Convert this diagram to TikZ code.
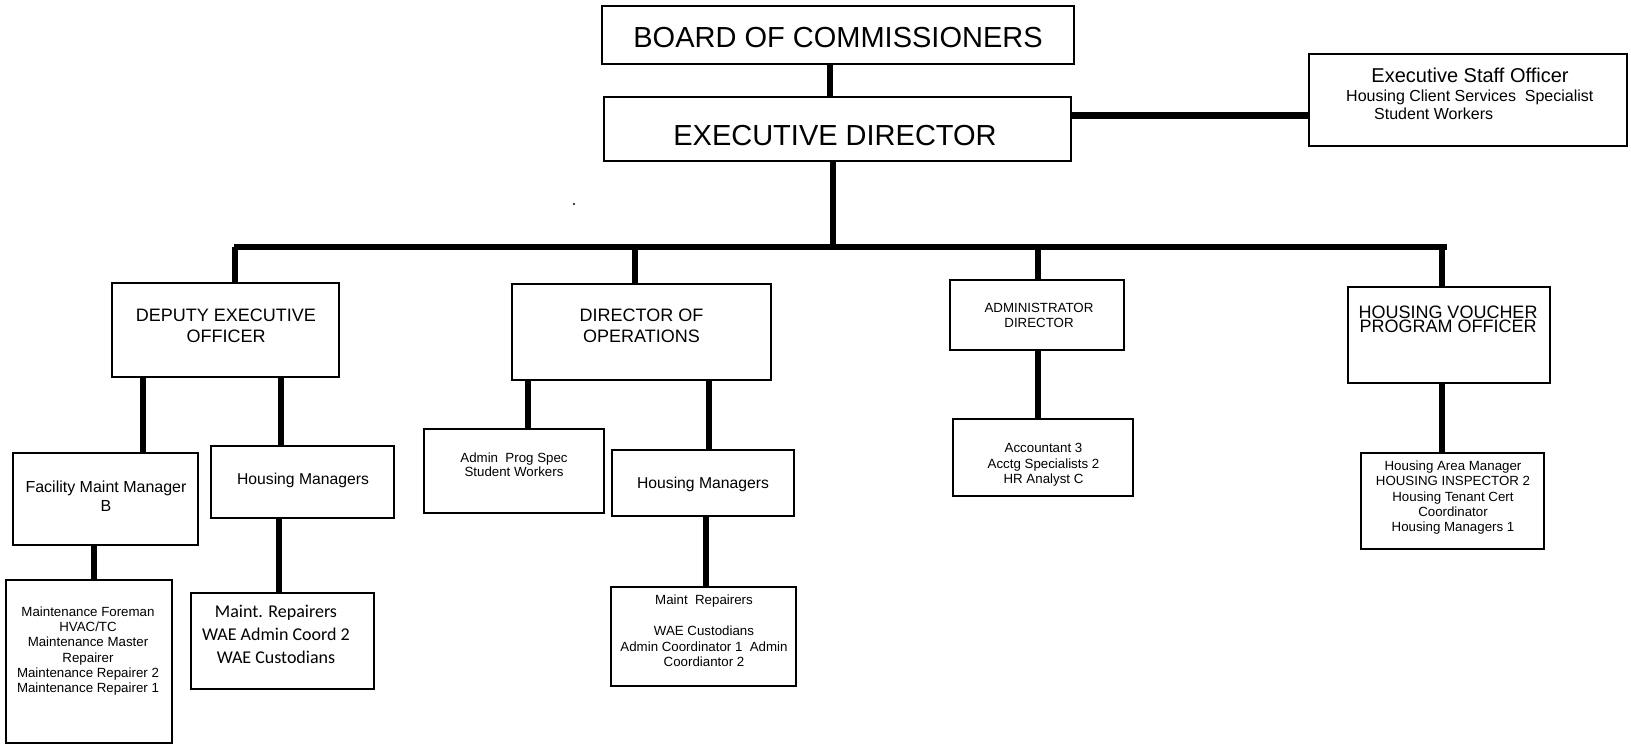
\documentclass[tikz,border=0pt]{standalone}
\usepackage{fontspec}
\setmainfont{Liberation Sans}
\newfontfamily\calibrifont{Carlito}
\begin{document}
\begin{tikzpicture}[x=1pt,y=-1pt,
  box/.style={draw, rectangle, line width=2.7pt, inner sep=0pt},
  conn/.style={line width=6.5pt},
  lbl/.style={inner sep=0pt, align=center},
  big/.style={font=\fontsize{29}{33}\selectfont},
  head/.style={font=\fontsize{18}{21}\selectfont},
  small/.style={font=\fontsize{13.3}{15.3}\selectfont},
]
\useasboundingbox (0,0) rectangle (1631,746);

% ---- boxes ----
\node[box, minimum width=472pt, minimum height=58pt] (board) at (838,35) {};
\node[box, minimum width=467pt, minimum height=64pt] (ed) at (837.5,129) {};
\node[box, minimum width=318pt, minimum height=92pt] (eso) at (1468,100) {};

\node[box, minimum width=227pt, minimum height=94pt] (deo) at (225.5,330) {};
\node[box, minimum width=259pt, minimum height=96pt] (doo) at (641.5,332) {};
\node[box, minimum width=174pt, minimum height=70pt] (ad) at (1037,315) {};
\node[box, minimum width=202pt, minimum height=96pt] (hvpo) at (1449,335) {};

\node[box, minimum width=185pt, minimum height=92pt] (fmm) at (105.5,499) {};
\node[box, minimum width=183pt, minimum height=72pt] (hm1) at (302.5,482) {};
\node[box, minimum width=180pt, minimum height=84pt] (aps) at (514,471) {};
\node[box, minimum width=182pt, minimum height=66pt] (hm2) at (703,483) {};
\node[box, minimum width=180pt, minimum height=77pt] (acc) at (1043,457.5) {};
\node[box, minimum width=183pt, minimum height=96pt] (hvs) at (1452.5,501) {};

\node[box, minimum width=166pt, minimum height=163pt] (mnt) at (89,661.5) {};
\node[box, minimum width=183pt, minimum height=96pt] (mr1) at (282.5,641) {};
\node[box, minimum width=185pt, minimum height=99pt] (mr2) at (703.5,636.5) {};

% ---- connector positions ----
\coordinate (x-top) at (830,0);
\coordinate (y-eso) at (0,116);
\coordinate (bus-l) at (234,247);
\coordinate (bus-r) at (1447,247);
\coordinate (bus-ed) at (833,247);
\coordinate (bus-deo) at (235,247);
\coordinate (bus-doo) at (635,247);
\coordinate (bus-ad) at (1038,247);
\coordinate (bus-hv) at (1442,247);
\coordinate (x-fmm) at (143,0);
\coordinate (x-hm1) at (281,0);
\coordinate (x-mnt) at (94,0);
\coordinate (x-mr1) at (279,0);
\coordinate (x-aps) at (528,0);
\coordinate (x-hm2) at (709,0);
\coordinate (x-mr2) at (706,0);

% ---- connectors ----
\draw[conn, line width=5.5pt] (board.south -| x-top) -- (ed.north -| x-top);
\draw[conn, line width=7pt] (ed.east |- y-eso) -- (eso.west |- y-eso);
\draw[conn] (ed.south -| bus-ed) -- (bus-ed);
\draw[conn] (bus-l) -- (bus-r);
\draw[conn] (bus-deo) -- (deo.north -| bus-deo);
\draw[conn] (bus-doo) -- (doo.north -| bus-doo);
\draw[conn] (bus-ad) -- (ad.north -| bus-ad);
\draw[conn] (bus-hv) -- (hvpo.north -| bus-hv);

\draw[conn] (deo.south -| x-fmm) -- (fmm.north -| x-fmm);
\draw[conn] (deo.south -| x-hm1) -- (hm1.north -| x-hm1);
\draw[conn] (fmm.south -| x-mnt) -- (mnt.north -| x-mnt);
\draw[conn] (hm1.south -| x-mr1) -- (mr1.north -| x-mr1);
\draw[conn] (doo.south -| x-aps) -- (aps.north -| x-aps);
\draw[conn] (doo.south -| x-hm2) -- (hm2.north -| x-hm2);
\draw[conn] (hm2.south -| x-mr2) -- (mr2.north -| x-mr2);
\draw[conn] (ad.south -| bus-ad) -- (acc.north -| bus-ad);
\draw[conn] (hvpo.south -| bus-hv) -- (hvs.north -| bus-hv);

% ---- texts ----
\node[lbl, big] (t-board) at (838,38) {BOARD OF COMMISSIONERS};
\node[lbl, big] (t-ed) at (835,136) {EXECUTIVE DIRECTOR};

\node[lbl, font=\fontsize{20}{24}\selectfont] (t-eso) at (1470,75) {Executive Staff Officer};
\node[lbl, anchor=west, font=\fontsize{16}{19}\selectfont] (t-eso2) at (1346,97.5) {Housing Client Services\ \ Specialist};
\node[lbl, anchor=west, font=\fontsize{16}{19}\selectfont] (t-eso3) at (1374,114) {Student Workers};

\node[lbl, head] (t-deo) at (226,325.5) {DEPUTY EXECUTIVE\\OFFICER};
\node[lbl, head] (t-doo) at (641.5,325.5) {DIRECTOR OF\\OPERATIONS};
\node[lbl, small, font=\fontsize{13.3}{15}\selectfont] (t-ad) at (1039,315.5) {ADMINISTRATOR\\DIRECTOR};
\node[lbl, font=\fontsize{18}{14}\selectfont] (t-hvpo) at (1448,319) {HOUSING VOUCHER\\PROGRAM OFFICER};

\node[lbl, font=\fontsize{16}{19}\selectfont] (t-fmm) at (106,496.5) {Facility Maint Manager\\B};
\node[lbl, font=\fontsize{15.7}{19}\selectfont] (t-hm1) at (303,480) {Housing Managers};
\node[lbl, font=\fontsize{13.3}{14.2}\selectfont] (t-aps) at (514,465) {Admin\ \ Prog Spec\\Student Workers};
\node[lbl, font=\fontsize{15.7}{19}\selectfont] (t-hm2) at (703,484) {Housing Managers};
\node[lbl, small, font=\fontsize{13.3}{15.5}\selectfont] (t-acc) at (1043.5,464.8) {Accountant 3\\Acctg Specialists 2\\HR Analyst C};
\node[lbl, small, font=\fontsize{13.3}{15.25}\selectfont] (t-hvs) at (1453,497.8) {Housing Area Manager\\HOUSING INSPECTOR 2\\Housing Tenant Cert\\Coordinator\\Housing Managers 1};

\node[lbl, font=\fontsize{13.3}{15.2}\selectfont] (t-mnt) at (88,651) {Maintenance Foreman\\HVAC/TC\\Maintenance Master\\Repairer\\Maintenance Repairer 2\\Maintenance Repairer 1};
\node[lbl, font=\calibrifont\fontsize{18}{23}\selectfont] (t-mr1) at (276,634) {Maint. Repairers\\WAE Admin Coord 2\\WAE Custodians};
\node[lbl, font=\fontsize{13.3}{15.5}\selectfont] (t-mr2) at (704,631) {Maint\ \ Repairers\\[15.5pt]WAE Custodians\\Admin Coordinator 1\ \ Admin\\Coordiantor 2};

% stray full stop between the two upper rows
\fill (574,204) circle (1.2);
\end{tikzpicture}
\end{document}
